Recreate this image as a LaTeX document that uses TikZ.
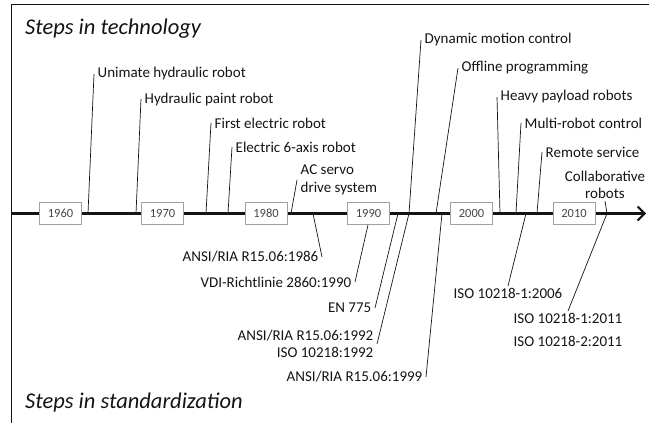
\documentclass[tikz,border=0pt]{standalone}
\usepackage{fontspec}
\setmainfont{Carlito}
\definecolor{tlblack}{RGB}{20,20,20}
\definecolor{tlgray}{RGB}{160,160,160}
\definecolor{tltext}{RGB}{70,70,70}
\usetikzlibrary{arrows.meta,positioning}

\begin{document}
\begin{tikzpicture}[
        x=1pt,y=-1pt,
        lbl/.style={font=\fontsize{15}{17.5}\selectfont,text=tlblack,inner sep=3.5pt},
        ttl/.style={font=\fontsize{22.5}{26}\selectfont\itshape,text=tlblack,anchor=west,inner sep=0pt},
        yearbox/.style={rectangle,draw=tlgray,fill=white,line width=0.8pt,
              minimum width=42pt,minimum height=22pt,inner sep=0pt,
              font=\fontsize{12.5}{14}\selectfont,text=tltext},
        tick/.style={line width=0.7pt,tlblack}]

        \useasboundingbox (0,0) rectangle (649,423);

        % frame and time axis
        \draw[line width=1.3pt,tlblack] (11.5,423) -- (11.5,4.5) -- (649,4.5);
        \coordinate (axL) at (11.5,213.5);
        \coordinate (axR) at (646,213.5);
        \draw[line width=2.2pt,tlblack,-{Straight Barb[length=7pt,width=14pt,line width=2pt]}] (axL) -- (axR);

        \node[ttl] (tech) at (25,29)  {Steps in technology};
        \node[ttl] (stand) at (25,402) {Steps in standardization};

        % points on the axis
        \coordinate (p60) at (88,213.5);
        \coordinate (p63) at (136,213.5);
        \coordinate (p70) at (206,213.5);
        \coordinate (p72) at (228,213.5);
        \coordinate (p81) at (291,213.5);
        \coordinate (p86) at (313,213.5);
        \coordinate (p92a) at (398,213.5);
        \coordinate (p92b) at (409,213.5);
        \coordinate (p94) at (436,213.5);
        \coordinate (p99) at (442,213.5);
        \coordinate (p03) at (500,213.5);
        \coordinate (p04) at (516,213.5);
        \coordinate (p06) at (526,213.5);
        \coordinate (p07) at (537,213.5);
        \coordinate (p11) at (607,213.5);

        % steps in technology
        \node[lbl,anchor=west] (unimate) at (94,74)  {Unimate hydraulic robot};
        \node[lbl,anchor=west] (paint)   at (141,99) {Hydraulic paint robot};
        \node[lbl,anchor=west] (firstel) at (211,123) {First electric robot};
        \node[lbl,anchor=west] (sixaxis) at (232,147) {Electric 6-axis robot};
        \node[lbl,anchor=west,align=left] (acservo) at (297,180) {AC servo\\drive system};
        \node[lbl,anchor=west] (dynamic) at (421,40)  {Dynamic motion control};
        \node[lbl,anchor=west] (offline) at (458,68)  {Offline programming};
        \node[lbl,anchor=west] (heavy)   at (497,97)  {Heavy payload robots};
        \node[lbl,anchor=west] (multi)   at (521,123) {Multi-robot control};
        \node[lbl,anchor=west] (remote)  at (542,152) {Remote service};
        \node[lbl,anchor=south,align=center,inner sep=2pt] (collab) at (605,201) {Collaborative\\robots};

        \draw[tick] (p60) -- (unimate.west);
        \draw[tick] (p63) -- (paint.west);
        \draw[tick] (p70) -- (firstel.west);
        \draw[tick] (p72) -- (sixaxis.west);
        \draw[tick] (p81) -- (acservo.west);
        \draw[tick] (p92b) -- (dynamic.west);
        \draw[tick] (p94) -- (offline.west);
        \draw[tick] (p03) -- (heavy.west);
        \draw[tick] (p04) -- (multi.west);
        \draw[tick] (p07) -- (remote.west);
        \draw[tick] (p11) -- (collab.south);

        % steps in standardization
        \node[lbl,anchor=east] (ansi86) at (322,257) {ANSI/RIA R15.06:1986};
        \node[lbl,anchor=east] (vdi)    at (355,282) {VDI-Richtlinie 2860:1990};
        \node[lbl,anchor=east] (en775)  at (375,308) {EN 775};
        \node[lbl,anchor=east,align=right] (ansi92) at (377,344) {ANSI/RIA R15.06:1992\\ISO 10218:1992};
        \node[lbl,anchor=east] (ansi99) at (426,377) {ANSI/RIA R15.06:1999};
        \node[lbl,anchor=north,inner sep=2pt] (iso06) at (508,286) {ISO 10218-1:2006};
        \node[lbl,anchor=north,align=left,inner sep=2pt] (iso11) at (568,311) {ISO 10218-1:2011\\[6pt]ISO 10218-2:2011};

        % year boxes
        \node[yearbox] (y1960) at (60.5,213.5)  {1960};
        \node[yearbox] (y1970) at (162.5,213.5) {1970};
        \node[yearbox] (y1980) at (266,213.5)   {1980};
        \node[yearbox] (y1990) at (368.5,213.5) {1990};
        \node[yearbox] (y2000) at (471.5,213.5) {2000};
        \node[yearbox] (y2010) at (574,213.5)   {2010};

        \draw[tick] (p86) -- (ansi86.east);
        \draw[tick] (y1990.south -| 368,0) -- (vdi.east);
        \draw[tick] (p92a) -- (en775.east);
        \draw[tick] (p92b) -- (ansi92.east);
        \draw[tick] (p99) -- (ansi99.east);
        \draw[tick] (p06) -- (iso06.north);
        \draw[tick] (p11) -- (iso11.north);

    \end{tikzpicture}
\end{document}
